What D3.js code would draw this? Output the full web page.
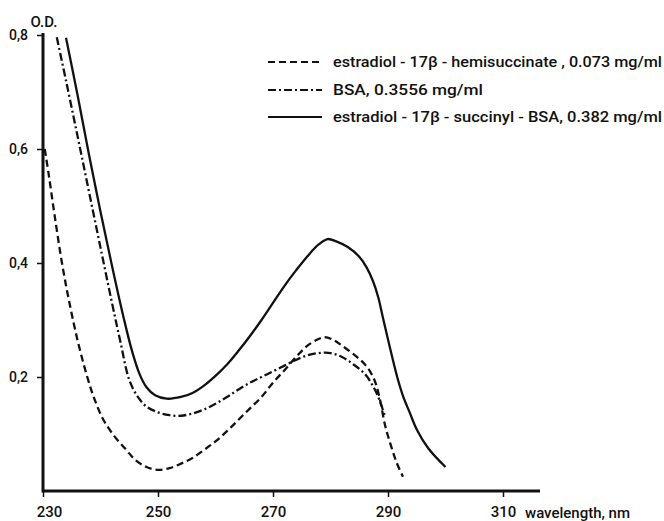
<!DOCTYPE html>
<html>
<head>
<meta charset="utf-8">
<script src="https://cdn.jsdelivr.net/npm/d3@7"></script>
<style>
  body { margin: 0; background: #fff; }
  svg { display: block; }
  text { font-family: Roboto, "Liberation Sans", sans-serif; font-weight: 500; fill: #111; }
</style>
</head>
<body>
<svg id="chart" width="664" height="521"></svg>
<script>
// wavelength (nm), optical density
var hemisuccinate = [
    [230.3, 0.6], [231, 0.555], [232, 0.485], [233.3, 0.4], [234.5, 0.335], [236, 0.265],
    [237.7, 0.2], [239, 0.16], [240.5, 0.125], [242.5, 0.095], [244.5, 0.072], [246, 0.055],
    [248, 0.042], [250, 0.037], [252, 0.04], [254, 0.048], [256, 0.058], [258, 0.072],
    [260, 0.087], [262, 0.105], [264, 0.125], [266, 0.145], [268, 0.165], [270, 0.19],
    [272, 0.212], [274, 0.235], [276, 0.255], [278, 0.267], [279, 0.27], [280.5, 0.265],
    [282, 0.255], [284, 0.24], [286, 0.222], [287.5, 0.198], [288.5, 0.165], [289.5, 0.115],
    [290.5, 0.08], [291.5, 0.05], [292.6, 0.025]
];
var bsa = [
    [232.4, 0.796], [234, 0.72], [236, 0.623], [238, 0.525], [240, 0.427], [242, 0.33],
    [243.5, 0.26], [245, 0.195], [246.5, 0.165], [248, 0.148], [250, 0.138], [252, 0.133],
    [254, 0.132], [256, 0.136], [258, 0.143], [260, 0.153], [262, 0.165], [264, 0.178],
    [266, 0.19], [268, 0.2], [270, 0.21], [272, 0.22], [274, 0.23], [276, 0.238],
    [278, 0.242], [280, 0.242], [282, 0.235], [284, 0.222], [286, 0.205], [287.5, 0.182],
    [288.5, 0.16], [289.5, 0.13]
];
var succinylBsa = [
    [234, 0.795], [236, 0.695], [238, 0.59], [240, 0.49], [242, 0.395], [244, 0.305],
    [245.5, 0.245], [246.8, 0.205], [248, 0.182], [249.5, 0.168], [251.5, 0.162], [254, 0.165],
    [256, 0.172], [258, 0.185], [260, 0.202], [262, 0.222], [264, 0.246], [266, 0.272],
    [268, 0.3], [270, 0.33], [272, 0.36], [274, 0.387], [276, 0.412], [278, 0.433],
    [279.5, 0.442], [281, 0.438], [283, 0.428], [285, 0.411], [286.3, 0.392], [287.4, 0.368],
    [288.3, 0.34], [289.1, 0.305], [290.3, 0.253], [291.6, 0.2], [292.6, 0.167],
    [293.8, 0.137], [295, 0.108], [297, 0.075], [300, 0.042]
];

var xTicks = [230, 250, 270, 290, 310];
var yTicks = [0.2, 0.4, 0.6, 0.8];
var legendLabels = [
    "estradiol - 17\u03B2 - hemisuccinate , 0.073 mg/ml",
    "BSA, 0.3556 mg/ml",
    "estradiol - 17\u03B2 - succinyl -  BSA, 0.382 mg/ml"
];
var dashes = ["7,4", "8,3,2,3", null];

var svg = d3.select('#chart');

// scales
var x = d3.scaleLinear().domain([230, 310]).range([43, 503]);
var y = d3.scaleLinear().domain([0, 0.8]).range([491, 35]);

// axes
var xAxis = svg.append('g')
    .attr('transform', 'translate(0,' + y(0) + ')')
    .call(d3.axisBottom(x).tickValues(xTicks).tickSize(6).tickPadding(9));
xAxis.select('.domain').remove();
xAxis.selectAll('line').attr('stroke', '#111').attr('stroke-width', 1.5);
xAxis.selectAll('text').attr('font-size', 15).attr('fill', '#111')
    .attr('dx', function (d) { return d == 230 ? 6 : 0; });

var yAxis = svg.append('g')
    .attr('transform', 'translate(' + x(230) + ',0)')
    .call(d3.axisLeft(y).tickValues(yTicks).tickSize(6).tickPadding(9)
        .tickFormat(function (d) { return d3.format('.1f')(d).replace('.', ','); }));
yAxis.select('.domain').remove();
yAxis.selectAll('line').attr('stroke', '#111').attr('stroke-width', 1.5);
yAxis.selectAll('text').attr('font-size', 14).attr('fill', '#111');

// thick axis lines
svg.append('line')
    .attr('x1', x(230)).attr('x2', x(310) + 37)
    .attr('y1', y(0)).attr('y2', y(0))
    .attr('stroke', '#111').attr('stroke-width', 3);
svg.append('line')
    .attr('x1', x(230)).attr('x2', x(230))
    .attr('y1', y(0) + 1.5).attr('y2', y(0.8) - 2)
    .attr('stroke', '#111').attr('stroke-width', 3);

svg.append('text')
    .attr('x', x(230) + 1).attr('y', 27)
    .attr('text-anchor', 'middle').attr('font-size', 15)
    .text('O.D.');
svg.append('text')
    .attr('x', x(310) + 22).attr('y', y(0) + 27)
    .attr('font-size', 15)
    .text('wavelength, nm');

// curves
var line = d3.line()
    .x(function (d) { return x(d[0]); })
    .y(function (d) { return y(d[1]); })
    .curve(d3.curveCatmullRom.alpha(0.5));

var series = [hemisuccinate, bsa, succinylBsa];
svg.selectAll('path.curve').data(series).enter().append('path')
    .attr('class', 'curve')
    .attr('d', line)
    .attr('fill', 'none')
    .attr('stroke', '#111')
    .attr('stroke-width', 2.3)
    .attr('stroke-dasharray', function (d, i) { return dashes[i]; });

// legend
var legend = svg.selectAll('g.legend').data(legendLabels).enter().append('g')
    .attr('class', 'legend')
    .attr('transform', function (d, i) { return 'translate(268,' + [62, 90, 117][i] + ')'; });
legend.append('line')
    .attr('x1', 0).attr('x2', 54)
    .attr('stroke', '#111').attr('stroke-width', 1.8)
    .attr('stroke-dasharray', function (d, i) { return dashes[i]; });
legend.append('text')
    .attr('x', 65).attr('y', 5)
    .attr('font-size', 15)
    .attr('textLength', function (d, i) { return [329, 150, 329][i]; })
    .attr('lengthAdjust', 'spacingAndGlyphs')
    .text(function (d) { return d; });
</script>
</body>
</html>
